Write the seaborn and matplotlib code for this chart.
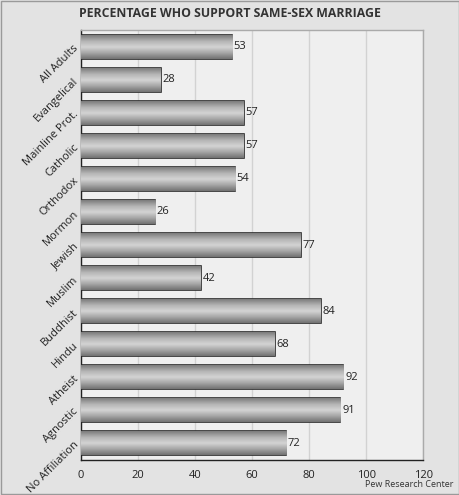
import numpy as np
import matplotlib
matplotlib.use("Agg")
import matplotlib.pyplot as plt
import seaborn as sns
from matplotlib.colors import LinearSegmentedColormap

groups = ["All Adults", "Evangelical", "Mainline Prot.", "Catholic", "Orthodox",
          "Mormon", "Jewish", "Muslim", "Buddhist", "Hindu", "Atheist",
          "Agnostic", "No Affiliation"]
support = [53, 28, 57, 57, 54, 26, 77, 42, 84, 68, 92, 91, 72]
x_ticks = [0, 20, 40, 60, 80, 100, 120]

sns.set_style("white")
plt.rcParams["font.family"] = ["Open Sans", "DejaVu Sans"]

fig = plt.figure(figsize=(4.6, 4.95), dpi=100, facecolor="#e3e3e3")
ax = fig.add_axes([0.176, 0.071, 0.744, 0.868])
ax.set_facecolor("#efefef")

sns.barplot(x=support, y=groups, color="#b0b0b0", edgecolor="#2a2a2a",
            linewidth=1.2, width=0.72, ax=ax, zorder=3)

# gradient fill on each bar, dark top/bottom, light middle
grad = LinearSegmentedColormap.from_list(
    "bar", ["#7c7c7c", "#b4b4b4", "#d4d4d4", "#a6a6a6", "#727272"])
col = np.linspace(0, 1, 64).reshape(-1, 1)
for p in ax.patches:
    x0, y0 = p.get_x(), p.get_y()
    w, h = p.get_width(), p.get_height()
    im = ax.imshow(col, cmap=grad, aspect="auto", extent=(x0, x0 + w, y0 + h, y0),
                   zorder=3.5, interpolation="bilinear")
    im.set_clip_path(p)
    ax.text(x0 + w + 0.6, y0 + h / 2, str(int(round(w))), va="center", ha="left",
            fontsize=8, color="#222222", zorder=5)

ax.set_xlim(0, 120)
ax.set_ylim(len(groups) - 0.5, -0.5)
ax.set_xticks(x_ticks)
ax.set_xticklabels([str(t) for t in x_ticks], fontsize=8, color="#222222")
ax.tick_params(axis="y", length=0, pad=3)
ax.tick_params(axis="x", length=0, pad=7)
ax.set_yticks(range(len(groups)))
ax.set_yticklabels(groups, rotation=45, ha="right", va="center",
                   rotation_mode="anchor", fontsize=8, color="#222222")
ax.xaxis.grid(True, color="#d2d2d2", linewidth=1, zorder=0)
ax.set_axisbelow(True)
for s in ax.spines.values():
    s.set_visible(True)
    s.set_linewidth(1.0)
ax.spines["left"].set_color("#222222")
ax.spines["bottom"].set_color("#222222")
ax.spines["right"].set_color("#aaaaaa")
ax.spines["top"].set_color("#aaaaaa")
ax.set_xlabel("")
ax.set_ylabel("")

fig.text(0.5, 0.972, "PERCENTAGE WHO SUPPORT SAME-SEX MARRIAGE", ha="center",
         va="center", fontsize=8.8, fontweight="bold", color="#333333")
fig.text(0.985, 0.012, "Pew Research Center", ha="right", va="bottom",
         fontsize=6.5, color="#333333")

# outer border
fig.patches.append(plt.Rectangle((0.002, 0.002), 0.996, 0.996, transform=fig.transFigure,
                                 fill=False, edgecolor="#9a9a9a", linewidth=1))

fig.savefig("out.png", dpi=100, facecolor=fig.get_facecolor())
